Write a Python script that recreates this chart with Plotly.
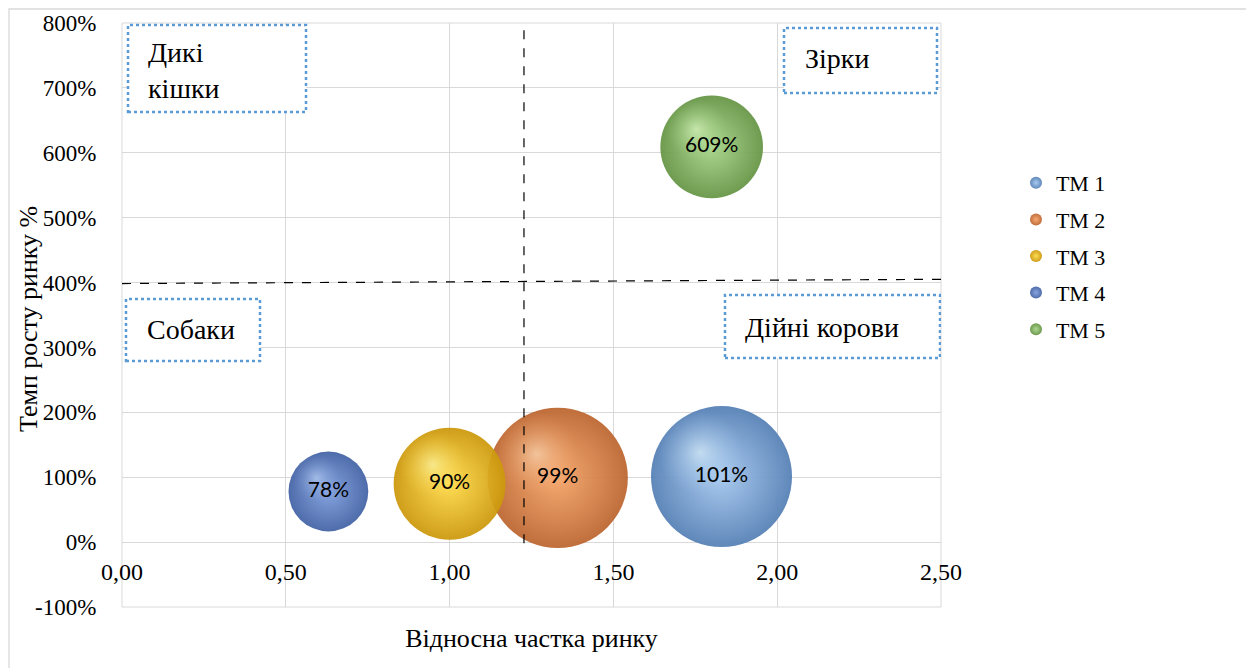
import plotly.graph_objects as go

# ---------------- data ----------------
brands = ["ТМ 1", "ТМ 2", "ТМ 3", "ТМ 4", "ТМ 5"]
rel_share = [1.83, 1.33, 1.00, 0.63, 1.80]          # відносна частка ринку
growth = [1.01, 0.99, 0.90, 0.78, 6.09]             # темп росту ринку (fraction)
bubble_size = [100, 99, 63, 32, 53]                 # bubble size values

x_ticks = [0, 0.5, 1.0, 1.5, 2.0, 2.5]
y_ticks = [-1, 0, 1, 2, 3, 4, 5, 6, 7, 8]
y_tick_labels = [f"{v * 100:.0f}%" for v in y_ticks]
share_divider = [1.227, 1.227]                      # vertical divider (x)
share_divider_y = [7.89, -0.05]
growth_divider_x = [0.0, 2.5]
growth_divider = [3.985, 4.05]                      # horizontal divider (y)

quadrants = ["Дикі<br>кішки", "Зірки", "Собаки", "Дійні корови"]

# ---------------- style ----------------
edge_colors = ["#5580B5", "#BC6630", "#CC980C", "#4463A5", "#659545"]
mid_colors = ["#A4C7EE", "#F5A468", "#FFDA4A", "#7E9EDC", "#A6D488"]
hi_colors = ["rgba(230,248,255,0.9)", "rgba(255,230,200,0.85)", "rgba(255,255,185,0.9)",
             "rgba(205,225,255,0.8)", "rgba(230,255,205,0.9)"]
hi_edge = ["rgba(164,199,238,0)", "rgba(245,164,104,0)", "rgba(255,218,74,0)",
           "rgba(126,158,220,0)", "rgba(166,212,136,0)"]

W, H = 1246, 668
L, R, T, B = 122, 941, 23, 607
XR = [0, 2.5]
YR = [-1, 8]
MAX_D = 141.0
sizeref = 2 * max(bubble_size) / (MAX_D ** 2)


def xd(px):
    return XR[0] + (px - L) / (R - L) * (XR[1] - XR[0])


def yd(py):
    return YR[1] - (py - T) / (B - T) * (YR[1] - YR[0])


px_per_x = (R - L) / (XR[1] - XR[0])
px_per_y = (B - T) / (YR[1] - YR[0])

serif = "Liberation Serif, Times New Roman, serif"
grid = "#D9D9D9"

fig = go.Figure()

for i, name in enumerate(brands):
    fig.add_trace(go.Scatter(
        x=[rel_share[i]], y=[growth[i]], mode="markers", name=name,
        legendgroup=name,
        marker=dict(size=[bubble_size[i]], sizemode="area", sizeref=sizeref,
                    color=edge_colors[i], opacity=0.94,
                    gradient=dict(type="radial", color=mid_colors[i]),
                    line=dict(width=0)),
        hoverinfo="skip",
    ))
    d = (2 * bubble_size[i] / sizeref) ** 0.5
    fig.add_trace(go.Scatter(
        x=[rel_share[i] - 0.15 * d / px_per_x], y=[growth[i] + 0.17 * d / px_per_y],
        mode="markers", showlegend=False, legendgroup=name,
        marker=dict(size=[bubble_size[i] * 0.36], sizemode="area", sizeref=sizeref,
                    color=hi_edge[i],
                    gradient=dict(type="radial", color=hi_colors[i]),
                    line=dict(width=0)),
        hoverinfo="skip",
    ))

fig.add_trace(go.Scatter(
    x=rel_share, y=growth, mode="text", showlegend=False,
    texttemplate="%{y:.0%}", textposition="middle center",
    textfont=dict(family="Lato", size=21, color="black"),
    hoverinfo="skip",
))

shapes = [
    # outer chart frame
    dict(type="rect", xref="paper", yref="paper",
         x0=(9 - L) / (R - L), x1=(1300 - L) / (R - L),
         y0=(B - 700) / (B - T), y1=(B - 9) / (B - T),
         line=dict(color=grid, width=1.3), layer="below"),
    # plot area border
    dict(type="rect", xref="paper", yref="paper", x0=0, x1=1, y0=0, y1=1,
         line=dict(color=grid, width=1), layer="below"),
    # dividers
    dict(type="line", xref="x", yref="y", x0=share_divider[0], x1=share_divider[1],
         y0=share_divider_y[0], y1=share_divider_y[1],
         line=dict(color="black", width=1.2, dash="dash"), layer="above"),
    dict(type="line", xref="x", yref="y", x0=growth_divider_x[0], x1=growth_divider_x[1],
         y0=growth_divider[0], y1=growth_divider[1],
         line=dict(color="black", width=1.2, dash="dash"), layer="above"),
]

boxes = [  # pixel boxes: (x0, y0, x1, y1, text x, text y)
    (128, 25, 306, 112, 146, 70),
    (784, 28, 937, 93, 803, 58),
    (126, 299, 260, 361, 145, 329),
    (725, 295, 940, 358, 743, 327),
]
annotations = []
for (x0, y0, x1, y1, tx, ty), txt in zip(boxes, quadrants):
    shapes.append(dict(type="rect", xref="x", yref="y", x0=xd(x0), x1=xd(x1),
                       y0=yd(y1), y1=yd(y0), fillcolor="white",
                       line=dict(color="#5B9BD5", width=2.5, dash="dot"), layer="above"))
    annotations.append(dict(x=xd(tx), y=yd(ty), xref="x", yref="y", text=txt,
                            showarrow=False, xanchor="left", yanchor="middle", align="left",
                            font=dict(family=serif, size=28, color="black")))

# y axis title
annotations.append(dict(x=(28 - L) / (R - L), y=(B - 319) / (B - T), xref="paper", yref="paper",
                        text="Темп росту ринку %", textangle=-90, showarrow=False,
                        xanchor="center", yanchor="middle",
                        font=dict(family=serif, size=26, color="black")))

fig.update_layout(
    width=W, height=H,
    margin=dict(l=L, r=W - R, t=T, b=H - B),
    paper_bgcolor="white", plot_bgcolor="white",
    separators=", ",
    showlegend=True,
    legend=dict(x=(1016 - L) / (R - L), y=(B - 162) / (B - T), xanchor="left", yanchor="top",
                font=dict(family=serif, size=22, color="black"),
                itemsizing="constant", tracegroupgap=5, bgcolor="rgba(0,0,0,0)"),
    xaxis=dict(range=XR, tickvals=x_ticks, tickformat=".2f",
               showgrid=True, gridcolor=grid, gridwidth=1, zeroline=False, showline=False,
               anchor="free", position=(0 - YR[0]) / (YR[1] - YR[0]),
               ticks="outside", ticklen=8, tickcolor="rgba(0,0,0,0)",
               tickfont=dict(family=serif, size=24, color="black"),
               title=dict(text="Відносна частка ринку", standoff=44,
                          font=dict(family=serif, size=26, color="black")),
               automargin=False, fixedrange=True),
    yaxis=dict(range=YR, tickvals=y_ticks, ticktext=y_tick_labels,
               showgrid=True, gridcolor=grid, gridwidth=1,
               zeroline=True, zerolinecolor=grid, zerolinewidth=1, showline=False,
               ticks="outside", ticklen=20, tickcolor="rgba(0,0,0,0)",
               tickfont=dict(family=serif, size=23, color="black"),
               automargin=False, fixedrange=True),
    shapes=shapes, annotations=annotations,
)

fig.write_html("out.html")
